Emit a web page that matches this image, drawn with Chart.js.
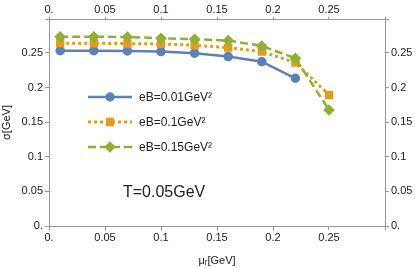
<!DOCTYPE html>
<html>
<head>
<meta charset="utf-8">
<script src="https://cdn.jsdelivr.net/npm/chart.js@4/dist/chart.umd.min.js"></script>
<style>
  html, body { margin: 0; padding: 0; background: #fff; }
  #wrap { width: 415px; height: 268px; }
</style>
</head>
<body>
<div id="wrap"><canvas id="sigmaChart" width="415" height="268"></canvas></div>
<script>
const muR = [0.01, 0.04, 0.07, 0.1, 0.13, 0.16, 0.19, 0.22, 0.25];
const sigmaEB001 = [0.2533, 0.2533, 0.2529, 0.2519, 0.2496, 0.2447, 0.2374, 0.2134];
const sigmaEB01 = [0.264, 0.264, 0.2635, 0.263, 0.261, 0.2577, 0.2519, 0.236, 0.1893];
const sigmaEB015 = [0.2735, 0.2735, 0.273, 0.2712, 0.2698, 0.2678, 0.2601, 0.2423, 0.1676];
const seriesLabels = ['eB=0.01GeV\u00b2', 'eB=0.1GeV\u00b2', 'eB=0.15GeV\u00b2'];
const tickValues = [0, 0.05, 0.1, 0.15, 0.2, 0.25];

const FONT = '"Liberation Sans", Arial, sans-serif';
const AXIS_COLOR = '#999';
const TEXT_COLOR = '#222';

function toPoints(ys) {
    return ys.map((y, i) => ({ x: muR[i], y: y }));
}

function fmt(v) {
    const r = Math.round(v * 100) / 100;
    if (!tickValues.some(t => Math.abs(t - r) < 1e-9)) return '';
    return r === 0 ? '0.' : String(r);
}

// legend drawn inside the plot, Mathematica style
const insideLegend = {
    id: 'insideLegend',
    afterDatasetsDraw(chart) {
        const ctx = chart.ctx;
        const rows = [97, 122, 147];
        chart.data.datasets.forEach((ds, i) => {
            const y = rows[i];
            ctx.save();
            ctx.strokeStyle = ds.borderColor;
            ctx.lineWidth = ds.borderWidth;
            ctx.setLineDash(ds.borderDash || []);
            ctx.beginPath();
            ctx.moveTo(88, y);
            ctx.lineTo(132, y);
            ctx.stroke();
            ctx.setLineDash([]);
            ctx.fillStyle = ds.pointBackgroundColor;
            ctx.strokeStyle = ds.pointBackgroundColor;
            Chart.helpers.drawPoint(ctx, {
                pointStyle: ds.pointStyle,
                radius: ds.pointRadius,
                rotation: 0,
                borderWidth: 1
            }, 110, y);
            ctx.fillStyle = TEXT_COLOR;
            ctx.font = '12px ' + FONT;
            ctx.textBaseline = 'middle';
            ctx.fillText(ds.label, 139, y + 1);
            ctx.restore();
        });
        ctx.save();
        ctx.fillStyle = TEXT_COLOR;
        ctx.font = '16px ' + FONT;
        ctx.textBaseline = 'middle';
        ctx.fillText('T=0.05GeV', 123, 193);
        ctx.restore();
    }
};

const yTicks = {
    stepSize: 0.05,
    color: TEXT_COLOR,
    font: { family: FONT, size: 11 },
    padding: 2,
    callback: v => fmt(v)
};
const xTicks = {
    stepSize: 0.05,
    color: TEXT_COLOR,
    font: { family: FONT, size: 11 },
    padding: 1,
    maxRotation: 0,
    callback: v => fmt(v)
};
const topTicks = Object.assign({}, xTicks, { padding: 0 });
const gridOpts = { drawOnChartArea: false, color: AXIS_COLOR, tickLength: 4 };
const topGrid = { drawOnChartArea: false, color: AXIS_COLOR, tickLength: 2 };
const borderOpts = { color: AXIS_COLOR, width: 1 };

const ctx = document.getElementById('sigmaChart').getContext('2d');
new Chart(ctx, {
    type: 'line',
    data: {
        datasets: [{
            label: seriesLabels[0],
            data: toPoints(sigmaEB001),
            borderColor: '#5e81b5',
            backgroundColor: '#5e81b5',
            pointBackgroundColor: '#5e81b5',
            pointBorderColor: '#5e81b5',
            borderWidth: 2.5,
            pointStyle: 'circle',
            pointRadius: 3.5,
            order: 3
        }, {
            label: seriesLabels[1],
            data: toPoints(sigmaEB01),
            borderColor: '#e19c24',
            backgroundColor: '#e19c24',
            pointBackgroundColor: '#e19c24',
            pointBorderColor: '#e19c24',
            borderWidth: 3,
            borderDash: [3, 3],
            pointStyle: 'rect',
            pointRadius: 3.8,
            order: 2
        }, {
            label: seriesLabels[2],
            data: toPoints(sigmaEB015),
            borderColor: '#8fb032',
            backgroundColor: '#8fb032',
            pointBackgroundColor: '#8fb032',
            pointBorderColor: '#8fb032',
            borderWidth: 2.5,
            borderDash: [8, 4],
            pointStyle: 'rectRot',
            pointRadius: 4,
            order: 1
        }]
    },
    options: {
        responsive: false,
        animation: false,
        layout: { padding: 0 },
        plugins: {
            legend: { display: false },
            tooltip: { enabled: false }
        },
        scales: {
            x: {
                type: 'linear',
                position: 'bottom',
                min: 0,
                max: 0.3,
                ticks: xTicks,
                grid: gridOpts,
                border: borderOpts,
                title: {
                    display: true,
                    text: '\u03bc\u1d63[GeV]',
                    color: TEXT_COLOR,
                    font: { family: FONT, size: 11 },
                    padding: { top: 4, bottom: 0 }
                },
                afterFit: s => { s.height = 42; }
            },
            x2: {
                type: 'linear',
                position: 'top',
                min: 0,
                max: 0.3,
                ticks: topTicks,
                grid: topGrid,
                border: borderOpts,
                afterFit: s => { s.height = 19; }
            },
            y: {
                type: 'linear',
                position: 'left',
                min: 0,
                max: 0.299,
                ticks: yTicks,
                grid: gridOpts,
                border: borderOpts,
                title: {
                    display: true,
                    text: '\u03c3[GeV]',
                    color: TEXT_COLOR,
                    font: { family: FONT, size: 11 },
                    padding: { top: 0, bottom: 2 }
                },
                afterFit: s => { s.width = 49; }
            },
            y2: {
                type: 'linear',
                position: 'right',
                min: 0,
                max: 0.299,
                ticks: yTicks,
                grid: gridOpts,
                border: borderOpts,
                afterFit: s => { s.width = 30; }
            }
        }
    },
    plugins: [insideLegend]
});
</script>
</body>
</html>
